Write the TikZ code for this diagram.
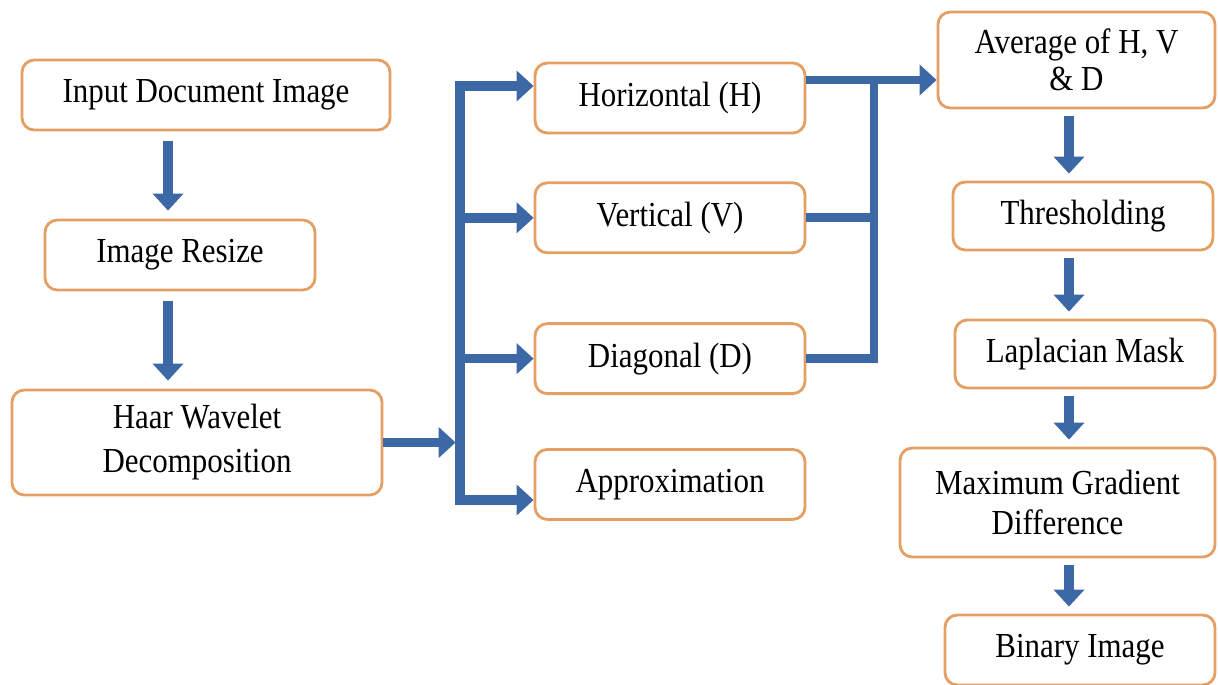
\documentclass[tikz,border=0pt]{standalone}
\usepackage{fontspec}
\setmainfont{Liberation Serif}[FakeStretch=0.88]
\usepackage{xcolor}
\usetikzlibrary{positioning, arrows.meta}

\definecolor{boxorange}{RGB}{228,160,100}
\definecolor{flowblue}{RGB}{61,104,166}

\tikzset{
  block/.style={draw=boxorange, line width=1.6pt, rounded corners=7pt, fill=white,
    minimum height=1.4cm, align=center, font=\fontsize{20}{24}\selectfont},
  flow/.style={draw=flowblue, line width=5.5pt, ->},
  bus/.style={draw=flowblue, line width=5pt},
}

\begin{document}
\begin{tikzpicture}[>={Triangle[width=6mm,length=3.4mm]}]
    \useasboundingbox (0,0) rectangle (24.36,-13.68);

    % left column
    \node[block, minimum width=7.36cm] (inp) at (4.12,-1.9) {Input Document Image};
    \node[block, minimum width=5.4cm] (res) at (3.6,-5.1) {Image Resize};
    \node[block, minimum width=7.4cm, minimum height=2.1cm, font=\fontsize{20}{25}\selectfont] (haar) at (3.94,-8.85) {Haar Wavelet\\Decomposition};

    % sub-bands
    \node[block, minimum width=5.4cm] (hor) at (13.4,-1.96) {Horizontal (H)};
    \node[block, minimum width=5.4cm] (ver) [below=0.94 of hor] {Vertical (V)};
    \node[block, minimum width=5.4cm] (dia) [below=1.36 of ver] {Diagonal (D)};
    \node[block, minimum width=5.4cm] (app) [below=1.06 of dia] {Approximation};

    % right column
    \node[block, minimum width=5.54cm, minimum height=1.92cm, font=\fontsize{20}{21}\selectfont] (avg) at (21.53,-1.2) {Average of H, V\\\& D};
    \node[block, minimum width=5.2cm, minimum height=1.36cm] (thr) at (21.66,-4.32) {Thresholding};
    \node[block, minimum width=5.2cm, minimum height=1.36cm] (lap) at (21.7,-7.08) {Laplacian Mask};
    \node[block, minimum width=6.3cm, minimum height=2.18cm, font=\fontsize{20}{23}\selectfont] (mgd) at (21.15,-10.05) {Maximum Gradient\\Difference};
    \node[block, minimum width=5.4cm] (bin) at (21.6,-13.0) {Binary Image};

    \coordinate (lc) at (3.36,0);
    \coordinate (rc) at (21.38,0);
    \coordinate (bt) at (9.2,-1.72);
    \coordinate (bb) at (9.2,-10.0);
    \coordinate (my) at (17.48,-1.6);

    % down arrows
    \foreach \a/\b in {inp/res, res/haar}
        \draw[flow, shorten <=0.2cm, shorten >=0.16cm] (\a.south -| lc) -- (\b.north -| lc);
    \foreach \a/\b in {avg/thr, thr/lap, lap/mgd, mgd/bin}
        \draw[flow, shorten <=0.14cm, shorten >=0.14cm] (\a.south -| rc) -- (\b.north -| rc);

    % wavelet bus
    \draw[flow, shorten >=2.5pt] (haar.east) -- (haar.east -| bt);
    \draw[flow, <->] (hor.west |- bt) -- (bt) -- (bb) -- (app.west |- bb);
    \draw[flow] (ver.west -| bt) -- (ver.west);
    \draw[flow] (dia.west -| bt) -- (dia.west);

    % merge into average
    \draw[bus] (dia.east) -- (dia.east -| my) -- (my);
    \draw[bus] (ver.east) -- (ver.east -| my);
    \draw[flow, line width=5pt] (hor.east |- my) -- (avg.west |- my);

\end{tikzpicture}
\end{document}
